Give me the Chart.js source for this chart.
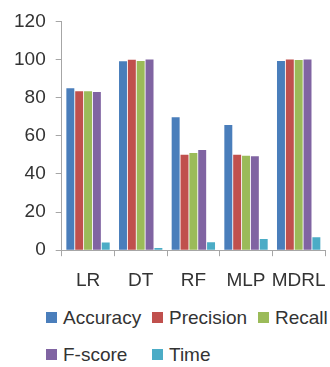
<!DOCTYPE html>
<html>
<head>
<meta charset="utf-8">
<script src="https://cdn.jsdelivr.net/npm/chart.js@4/dist/chart.umd.min.js"></script>
<style>
	html, body { margin: 0; padding: 0; background: #fff; }
	#wrap { position: relative; width: 330px; height: 305px; }
	#legend {
		display: grid;
		grid-template-columns: 106px 106px 106px;
		margin-left: 46px;
		margin-top: -6px;
		font-family: "Liberation Sans", Arial, sans-serif;
		font-size: 19px;
		color: #333;
		line-height: 37px;
	}
	#legend span.item { display: flex; align-items: center; white-space: nowrap; }
	#legend span.box { display: inline-block; width: 11px; height: 11px; margin-right: 6px; }
</style>
</head>
<body>
<div id="wrap"><canvas id="chart"></canvas></div>
<div id="legend"></div>
<script>
const categories = ['LR', 'DT', 'RF', 'MLP', 'MDRL'];
const seriesNames = ['Accuracy', 'Precision', 'Recall', 'F-score', 'Time'];
const accuracy = [84.9, 99.1, 69.7, 65.7, 99.2];
const precision = [83.4, 99.9, 50.0, 50.0, 100];
const recall = [83.3, 99.2, 51.0, 49.5, 99.7];
const fscore = [83.0, 100, 52.5, 49.3, 100];
const time = [4.0, 1.2, 4.2, 5.9, 6.8];
const yTicks = [0, 20, 40, 60, 80, 100, 120];

const colors = ['#4A7EBB', '#C0504D', '#9BBB59', '#8064A2', '#4BACC6'];
const values = [accuracy, precision, recall, fscore, time];
const font = { family: '"Liberation Sans", Arial, sans-serif', size: 19 };

new Chart(
	document.getElementById('chart'),
	{
		type: 'bar',
		data: {
			labels: categories,
			datasets: seriesNames.map((name, i) => ({
				label: name,
				data: values[i],
				backgroundColor: colors[i],
				borderWidth: 0,
				barPercentage: 0.9,
				categoryPercentage: 0.84,
			})),
		},
		options: {
			responsive: true,
			maintainAspectRatio: false,
			animation: false,
			layout: {
				padding: { left: 4, right: 5, top: 8, bottom: 0 },
			},
			plugins: {
				legend: { display: false },
				tooltip: { enabled: false },
			},
			scales: {
				x: {
					// the last label may run to the canvas edge, as in the original
					afterFit: (scale) => {
						scale.paddingLeft = 0;
						scale.paddingRight = 0;
					},
					grid: {
						drawOnChartArea: false,
						drawTicks: true,
						tickLength: 6,
						color: '#a6a6a6',
					},
					border: { color: '#a6a6a6', width: 1 },
					ticks: {
						font: font,
						color: '#333',
						padding: 13,
						maxRotation: 0,
						autoSkip: false,
					},
				},
				y: {
					min: 0,
					max: 120,
					afterBuildTicks: (axis) => {
						axis.ticks = yTicks.map(v => ({ value: v }));
					},
					grid: {
						drawOnChartArea: false,
						drawTicks: true,
						tickLength: 6,
						color: '#a6a6a6',
					},
					border: { color: '#a6a6a6', width: 1 },
					ticks: {
						font: font,
						color: '#333',
						padding: 10,
					},
				},
			},
		},
	}
);

const legend = document.getElementById('legend');
seriesNames.forEach((name, i) => {
	const item = document.createElement('span');
	item.className = 'item';
	const box = document.createElement('span');
	box.className = 'box';
	box.style.background = colors[i];
	item.appendChild(box);
	item.appendChild(document.createTextNode(name));
	legend.appendChild(item);
});
</script>
</body>
</html>
